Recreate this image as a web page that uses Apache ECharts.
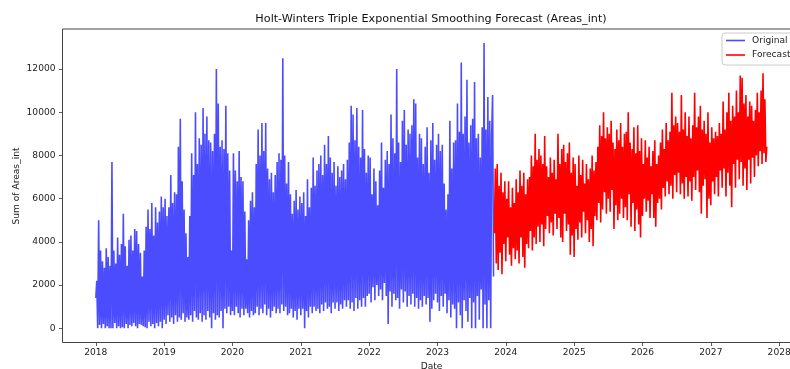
<!DOCTYPE html>
<html>
<head>
<meta charset="utf-8">
<script src="https://cdn.jsdelivr.net/npm/echarts@6/dist/echarts.min.js"></script>
<style>
  html, body { margin: 0; padding: 0; background: #ffffff; }
  #chart { width: 790px; height: 369px; }
</style>
</head>
<body>
<div id="chart"></div>
<script>
// Axis tick labels
const yearTicks = [2018, 2019, 2020, 2021, 2022, 2023, 2024, 2025, 2026, 2027, 2028];
const valueTicks = [0, 2000, 4000, 6000, 8000, 10000, 12000];

// Sampling: six readings per month (365.25 / 72 days apart)
const originalStart = [2018, 0, 1];
const forecastStart = [2023, 10, 1];
const stepDays = 365.25 / 72;

// Observed Areas_int sums, Jan 2018 - Oct 2023
const originalValues = [
  1400,2200,0,5000,150,3600, 0,3100,200,2800,0,3700, 100,3300,0,2900,0,7700,
  0,3600,250,3000,0,4200, 100,3400,0,3900,50,5300, 0,3800,200,2900,0,4100,
  150,4300,100,3600,250,4600, 100,4500,0,3900,200,3500, 150,2400,100,3600,50,4700,
  0,5500,300,4600,100,5800, 200,4300,0,5600,250,4900, 100,5400,300,6100,0,5600,

  400,6000,200,5200,600,5600, 300,7100,500,5800,200,6300, 600,6200,300,8400,500,9700,
  400,6800,700,5500,300,4400, 500,3300,400,5200,600,8100, 300,7100,800,10000,500,7600,
  400,8800,700,8500,300,10200, 600,9000,400,9800,800,8700, 500,8600,0,8200,700,9000,
  400,12000,600,10400,500,8400, 800,8700,0,8300,900,10300, 700,8100,1000,7300,600,3600,

  800,8100,600,7300,1000,6800, 700,8200,500,7000,900,6800, 600,5400,900,3200,700,5000,
  500,5900,800,6300,600,5600, 700,7600,1000,9200,600,8000, 900,9500,700,8200,1100,9500,
  600,7400,900,6900,500,7200, 800,6300,1000,7100,700,7700, 900,8100,700,7800,1100,12500,
  800,8000,1000,6700,600,7700, 700,6200,900,5300,500,5900, 800,6400,400,5500,900,6100,

  600,5800,900,6300,0,5200, 800,6900,500,5600,1000,6500, 700,7900,1000,6600,800,7300,
  900,7600,700,8000,1100,7100, 800,8500,1200,7600,900,8900, 1000,7900,700,7200,1200,7700,
  900,6600,1200,7500,800,7000, 1100,7300,900,7600,1300,6900, 1000,7800,1300,8600,900,10300,
  1200,9900,800,8700,1400,10200, 900,8400,1300,7900,1000,10100, 1400,8300,1000,7200,1500,8000,

  1600,7900,1200,6200,1900,7400, 1300,6800,2000,5700,1500,7300, 1800,8600,1300,6500,2100,7800,
  1500,8200,200,7600,1700,9900, 1000,8800,1600,8100,1300,12000, 1400,8600,900,7700,1800,9600,
  1200,10100,1700,8500,1000,9200, 1500,9000,1100,9400,1600,10600, 1000,10400,1400,7900,900,9000,
  1300,8800,1000,7600,1500,8400, 1100,9300,1400,7200,300,8700, 900,9500,1300,7800,1600,8500,

  1200,9000,800,8200,1500,8500, 1000,6700,1600,5500,700,6200, 1300,9600,500,7400,1100,8600,
  900,8700,0,10400,1200,9100, 600,12300,0,9000,1300,9800, 800,11500,300,8600,1400,9400,
  0,9700,1200,11400,0,8800, 1500,9000,400,7900,1800,9300, 0,13200,1100,9200,0,10700,
  1300,9600,0,8900,10800,2400
];

// Holt-Winters forecast, Nov 2023 - Oct 2027
const forecastValues = [
  4400,7400,3000,7600,2700,6600, 3500,7200,2500,6300,3900,6800,

  3100,6000,4200,6800,3400,5600, 2900,6500,3700,5800,3200,6900, 3600,6300,3000,7300,4200,6600,
  3300,7200,2800,6200,3900,6900, 3700,7000,4500,8000,3600,7500, 4200,9000,3900,7800,4700,8300,
  4000,8000,4800,7600,3800,8900, 4600,7500,5200,7000,4400,7900, 4900,7200,4300,7800,5300,6900,
  4600,9000,5100,7600,4200,8300, 4000,8500,5300,7700,4500,8100, 4800,8600,3400,7200,4300,7900,

  3300,7600,4600,6600,4100,8000, 4900,7100,4200,7800,5400,6700, 4400,7600,5000,6900,4000,7400,
  4600,8000,3800,7300,5200,7700, 5000,8400,5800,9400,4900,8900, 5500,10000,6300,8800,5300,9300,
  6000,9000,5400,9600,6400,8600, 4600,8300,5700,9200,5000,8700, 5300,9500,6000,8400,5100,9000,
  5600,9100,5000,10000,6200,8600, 4700,8300,5800,9300,4500,8100, 5500,9400,4800,8200,4200,8800,

  5200,7600,6000,8700,5400,7900, 5900,8400,5100,7500,6200,8200, 5100,8700,4700,7600,5800,8000,
  6000,8600,5500,9200,6500,8300, 6100,9500,6800,8700,6200,9100, 6600,10900,6000,9400,7100,9800,
  6300,9500,7200,9100,6200,10800, 6700,9200,6000,10000,7000,8900, 6100,9800,6800,8800,5900,9400,
  7000,10900,6400,9300,7300,9800, 6300,10300,5300,9200,6600,9600, 6900,9000,5100,10000,6000,8600,

  5700,9300,6800,8800,6200,9100, 7000,8900,6100,9500,7300,9000, 6500,10500,7400,9200,6100,10000,
  7200,10900,6600,9600,5600,10300, 7600,9800,6500,11000,7800,10000, 6900,11700,7700,11600,6600,10400,
  7400,10800,6400,9800,7800,10500, 6700,10300,7900,9600,7000,10100, 8000,10900,7500,10000,8200,11000,
  7600,11800,8100,10600,7700,8400
];

const DAY = 86400000;
function toSeries(start, values) {
  const t0 = Date.UTC(start[0], start[1], start[2]);
  return values.map((v, i) => [t0 + i * stepDays * DAY, v]);
}

const yearStamps = yearTicks.map(y => Date.UTC(y, 0, 1));
const font = 'DejaVu Sans';
const textColor = '#222';
const blue = 'rgba(0,0,255,0.7)';
const red = '#ff0000';

const chart = echarts.init(document.getElementById('chart'), null, { renderer: 'canvas' });
chart.setOption({
  animation: false,
  backgroundColor: '#ffffff',
  textStyle: { fontFamily: font },
  graphic: [
    {
      type: 'text',
      style: {
        x: 431, y: 19,
        text: 'Holt-Winters Triple Exponential Smoothing Forecast (Areas_int)',
        font: '11.2px "DejaVu Sans"', fill: '#111',
        align: 'center', verticalAlign: 'middle'
      }
    },
    {
      type: 'text',
      x: 17, y: 186,
      rotation: Math.PI / 2,
      style: {
        text: 'Sum of Areas_int',
        font: '9.1px "DejaVu Sans"', fill: textColor,
        align: 'center', verticalAlign: 'middle'
      }
    }
  ],
  legend: {
    orient: 'vertical',
    left: 722, top: 33,
    padding: [1.5, 20, 4, 4],
    itemGap: 2.5,
    itemWidth: 19, itemHeight: 1.6,
    icon: 'rect',
    backgroundColor: 'rgba(255,255,255,0.85)',
    borderColor: '#cccccc', borderWidth: 1, borderRadius: 3,
    textStyle: { fontSize: 9.1, color: textColor, fontFamily: font, padding: [1, 0, 0, 2], lineHeight: 11 },
    data: [
      { name: 'Original', itemStyle: { color: blue } },
      { name: 'Forecast', itemStyle: { color: red } }
    ]
  },
  grid: {
    show: true,
    left: 62.5, right: -10.5, top: 29, bottom: 26.5,
    borderColor: '#444', borderWidth: 1,
    backgroundColor: 'transparent',
    outerBoundsMode: 'none'
  },
  xAxis: {
    type: 'value',
    min: Date.UTC(2017, 6, 7),
    max: Date.UTC(2028, 3, 24),
    name: 'Date',
    nameLocation: 'middle',
    nameGap: 18.5,
    nameTextStyle: { fontSize: 9.1, color: textColor, fontFamily: font },
    axisLine: { show: false, onZero: false },
    splitLine: { show: false },
    axisTick: { show: true, customValues: yearStamps, length: 3.5, lineStyle: { color: '#333', width: 0.8 } },
    axisLabel: {
      customValues: yearStamps,
      formatter: v => String(new Date(v).getUTCFullYear()),
      fontSize: 9.1, color: textColor, fontFamily: font, margin: 6
    }
  },
  yAxis: {
    type: 'value',
    min: -657, max: 13852,
    axisLine: { show: false, onZero: false },
    splitLine: { show: false },
    axisTick: { show: true, customValues: valueTicks, length: 3.5, lineStyle: { color: '#333', width: 0.8 } },
    axisLabel: {
      customValues: valueTicks,
      formatter: v => String(v),
      fontSize: 9.1, color: textColor, fontFamily: font, margin: 7
    }
  },
  series: [
    {
      name: 'Original', type: 'line', symbol: 'none', showSymbol: false,
      data: toSeries(originalStart, originalValues),
      lineStyle: { color: blue, width: 1.6 },
      itemStyle: { color: blue },
      z: 2
    },
    {
      name: 'Forecast', type: 'line', symbol: 'none', showSymbol: false,
      data: toSeries(forecastStart, forecastValues),
      lineStyle: { color: red, width: 1.6 },
      itemStyle: { color: red },
      z: 3
    }
  ]
});
</script>
</body>
</html>
